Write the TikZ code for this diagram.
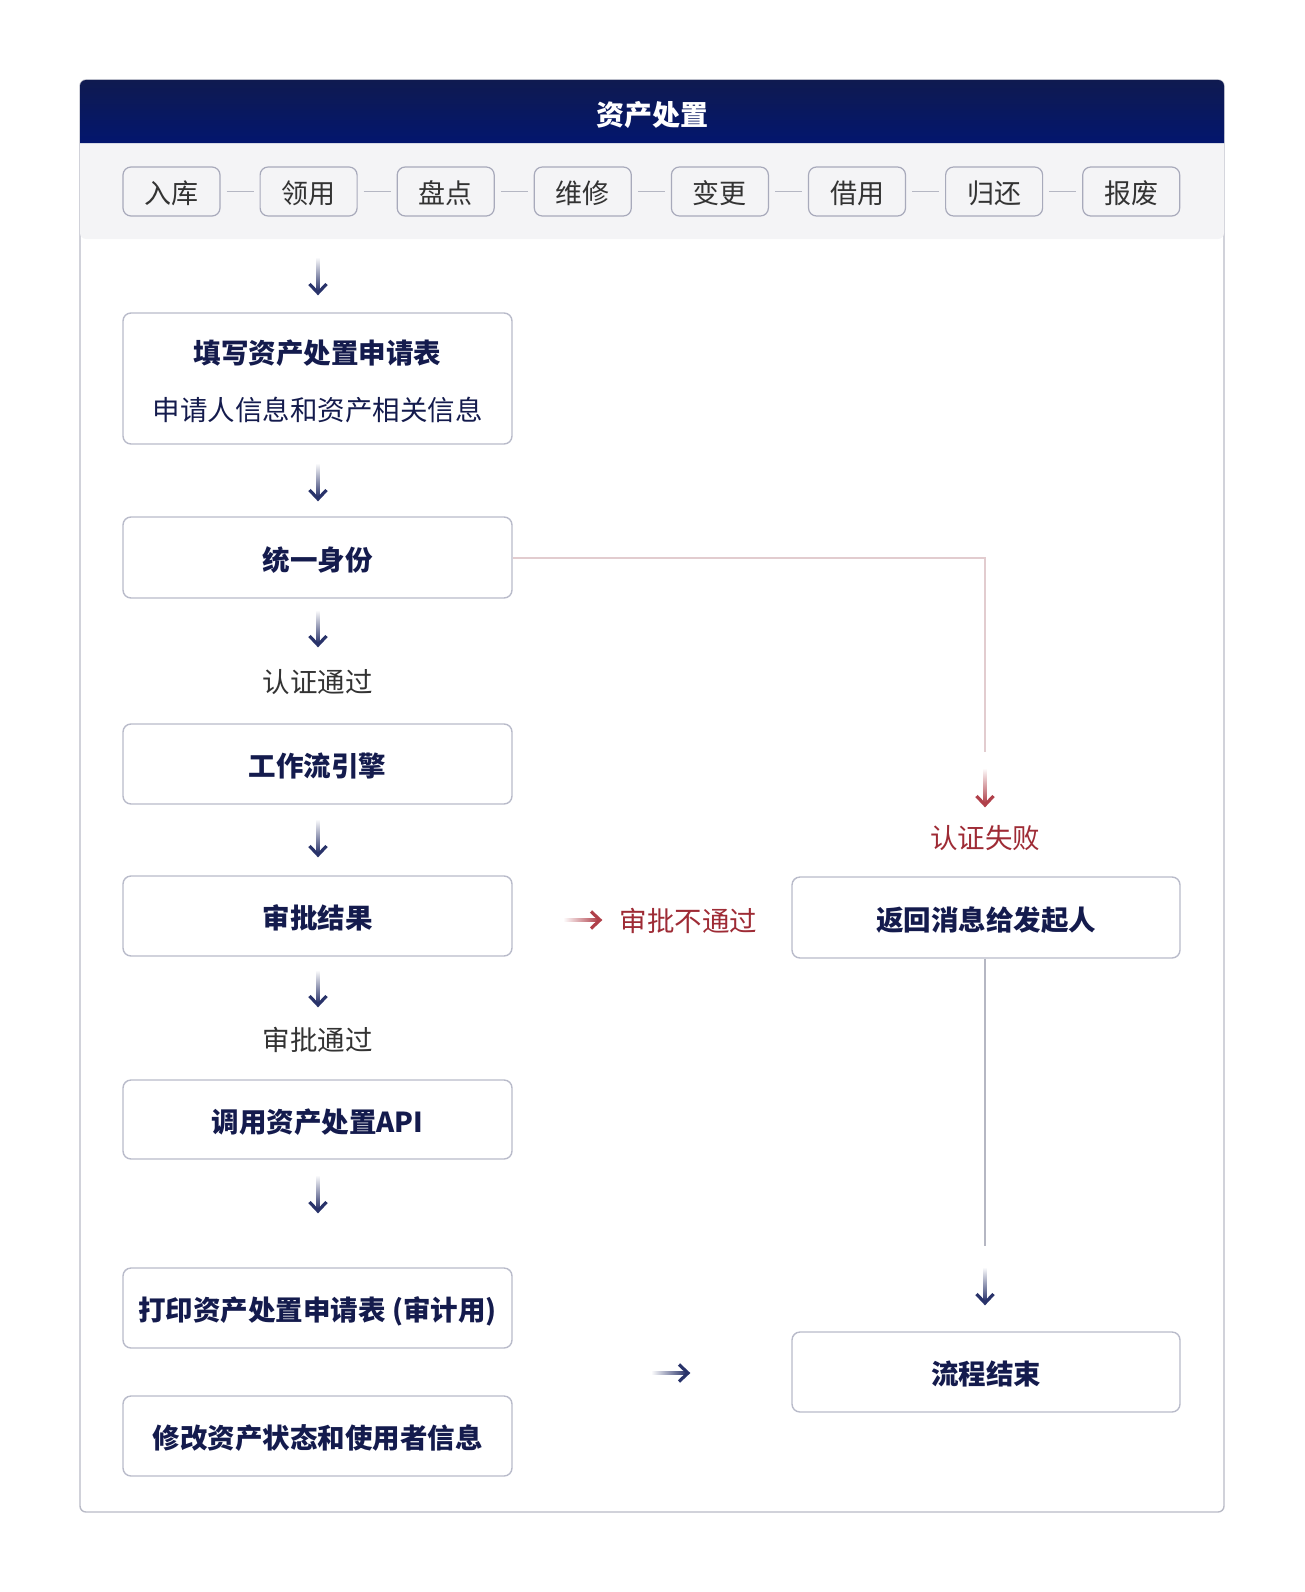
\documentclass[tikz,border=0pt]{standalone}
\usepackage{fontspec}
\setmainfont{Noto Sans CJK SC}
\usetikzlibrary{calc}
\definecolor{hdtop}{HTML}{0F1A50}
\definecolor{hdbot}{HTML}{03166E}
\definecolor{band}{HTML}{F4F4F6}
\definecolor{frameline}{HTML}{B8BAC6}
\definecolor{boxline}{HTML}{B9BBCA}
\definecolor{pillline}{HTML}{A8AABB}
\definecolor{txtnavy}{HTML}{141B4D}
\definecolor{txtgrey}{HTML}{333333}
\definecolor{arrownavy}{HTML}{29336A}
\definecolor{redtxt}{HTML}{9E2B35}
\definecolor{redarrow}{HTML}{B0404A}
\definecolor{redline}{HTML}{E2CCCF}
\definecolor{greyline}{HTML}{B5B7C3}
\newcommand{\vfade}[3]{%
  \shade[top color=white, bottom color=#3] ($(#1)+(-1.3,0)$) rectangle ($(#2)+(1.3,-4)$);
  \draw[#3, line width=3.2pt, line join=miter] ($(#2)+(-8.5,-11)$) -- ($(#2)+(0,-2)$) -- ($(#2)+(8.5,-11)$);
}
\newcommand{\hfade}[3]{%
  \shade[left color=white, right color=#3] ($(#1)+(0,-1.3)$) rectangle ($(#2)+(-4,1.3)$);
  \draw[#3, line width=3.2pt, line join=miter] ($(#2)+(-11,-8.5)$) -- ($(#2)+(-2,0)$) -- ($(#2)+(-11,8.5)$);
}
\tikzset{
  boxbase/.style={draw=boxline, line width=1.4pt, rounded corners=8pt, fill=white,
    minimum width=389pt, minimum height=80pt, inner sep=0pt, align=center,
    font=\fontsize{27.5}{33}\selectfont\bfseries, text=txtnavy},
  box/.style={boxbase, text height=29pt, text depth=3.2pt},
  pill/.style={draw=pillline, line width=1.2pt, rounded corners=8pt, fill=band,
    minimum width=97pt, minimum height=49pt, inner sep=0pt,
    text height=26.4pt, text depth=3.2pt,
    font=\fontsize{27}{32}\selectfont, text=txtgrey},
  pillconn/.style={draw=greyline, line width=1.3pt},
  lbl/.style={inner sep=0pt, font=\fontsize{27.5}{33}\selectfont, text=txtgrey},
  redlbl/.style={inner sep=0pt, font=\fontsize{27.5}{33}\selectfont, text=redtxt},
  redconn/.style={draw=redline, line width=1.6pt},
  greyconn/.style={draw=greyline, line width=1.6pt},
}
\begin{document}
\begin{tikzpicture}[x=1pt, y=-1pt]
\useasboundingbox (0,0) rectangle (1304,1592);
% frame
\draw[frameline, line width=1.4pt, rounded corners=6pt] (80,80) rectangle (1224,1512);
% band
\fill[band, rounded corners=6pt] (80,128) rectangle (1224,239);
% header
\shade[top color=hdtop, bottom color=hdbot] (80,143) [rounded corners=6pt] -- (80,80) -- (1224,80) [sharp corners] -- (1224,143) -- cycle;
\node[inner sep=0pt, text=white, font=\fontsize{28}{34}\selectfont\bfseries] (title) at (652,115) {资产处置};
% pills
\foreach \i/\t in {0/入库,1/领用,2/盘点,3/维修,4/变更,5/借用,6/归还,7/报废}{
  \node[pill] (p\i) at ({171.5+137.1*\i},191.5) {\t};
}
\foreach \i [evaluate=\i as \j using int(\i+1)] in {0,...,6}{
  \draw[pillconn] ($(p\i.east)+(6,0)$) -- ($(p\j.west)+(-6,0)$);
}
% left column boxes
\node[boxbase, minimum height=131pt] (n1) at (317.5,378.5) {\rule{0pt}{29pt}填写资产处置申请表\\[24pt]{\mdseries 申请人信息和资产相关信息}};
\node[box, minimum height=81pt] (n2) at (317.5,557.5) {统一身份};
\node[lbl] (l1) at (317.5,682) {认证通过};
\node[box] (n3) at (317.5,764) {工作流引擎};
\node[box] (n4) at (317.5,916) {审批结果};
\node[lbl] (l2) at (317.5,1040) {审批通过};
\node[box, minimum height=79pt] (n5) at (317.5,1119.5) {调用资产处置API};
\node[box] (n6) at (317.5,1308) {打印资产处置申请表 (审计用)};
\node[box] (n7) at (317.5,1436) {修改资产状态和使用者信息};
% right column
\node[box, minimum width=388pt, minimum height=81pt] (r1) at (986,917.5) {返回消息给发起人};
\node[box, minimum width=388pt] (r2) at (986,1372) {流程结束};
\node[redlbl] (l3) at (985,838) {认证失败};
\node[redlbl] (l4) at (688.5,921) {审批不通过};
% connector coordinates
\coordinate (a0s) at (318,257); \coordinate (a0e) at (318,295);
\coordinate (a1s) at (318,463); \coordinate (a1e) at (318,501);
\coordinate (a2s) at (318,610); \coordinate (a2e) at (318,647);
\coordinate (a3s) at (318,819); \coordinate (a3e) at (318,857);
\coordinate (a4s) at (318,970); \coordinate (a4e) at (318,1007);
\coordinate (a5s) at (318,1175); \coordinate (a5e) at (318,1213);
\coordinate (rds) at (985,768); \coordinate (rde) at (985,807);
\coordinate (rhs) at (563,920); \coordinate (rhe) at (602,920);
\coordinate (bhs) at (651,1373); \coordinate (bhe) at (690,1373);
\coordinate (gds) at (985,1267); \coordinate (gde) at (985,1305);
\coordinate (rcorner) at (985,558); \coordinate (rlineend) at (985,752);
\coordinate (glineend) at (985,1246);
% lines
\draw[redconn] (n2.east |- rcorner) -- (rcorner) -- (rlineend);
\draw[greyconn] (r1.south -| glineend) -- (glineend);
% arrows
\vfade{a0s}{a0e}{arrownavy}
\vfade{a1s}{a1e}{arrownavy}
\vfade{a2s}{a2e}{arrownavy}
\vfade{a3s}{a3e}{arrownavy}
\vfade{a4s}{a4e}{arrownavy}
\vfade{a5s}{a5e}{arrownavy}
\vfade{gds}{gde}{arrownavy}
\vfade{rds}{rde}{redarrow}
\hfade{rhs}{rhe}{redarrow}
\hfade{bhs}{bhe}{arrownavy}
\end{tikzpicture}
\end{document}
